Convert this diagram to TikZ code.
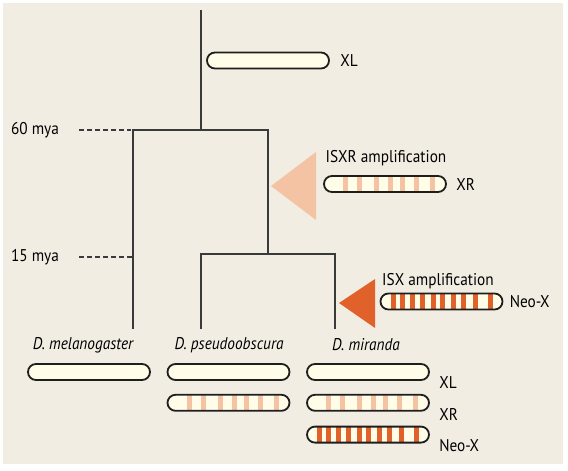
\documentclass[tikz,border=0pt]{standalone}
\usepackage{fontspec}
\setmainfont{PT Sans}[FakeStretch=0.9]
\usetikzlibrary{shapes,arrows,positioning}

\definecolor{paper}{HTML}{F2EDE3}
\definecolor{cream}{HTML}{FFFCE8}
\definecolor{treegray}{HTML}{3A3A3A}
\definecolor{chromline}{HTML}{1E1E1E}
\definecolor{lightband}{HTML}{F4C3A4}
\definecolor{darkband}{HTML}{E0622A}

\begin{document}
\begin{tikzpicture}[x=1pt,y=-1pt,thick,font=\fontsize{17}{19}\selectfont,
  branch/.style={draw=treegray,line width=1.1pt},
  timeline/.style={draw=treegray,line width=1.1pt,dash pattern=on 5pt off 3pt},
  chrom/.style={rounded rectangle,draw=chromline,line width=1.8pt,fill=cream,
    minimum width=122pt,minimum height=16pt,inner sep=0pt},
  xr chrom/.style={chrom,path picture={
    \foreach \s in {19,33,50,64,76,90,106}
      \fill[lightband] ([xshift=\s pt]path picture bounding box.south west)
        rectangle ([xshift={\s pt+5pt}]path picture bounding box.north west);}},
  neo chrom/.style={chrom,path picture={
    \foreach \s in {10,19,29,39,50,59,70,80,92,107}
      \fill[darkband] ([xshift=\s pt]path picture bounding box.south west)
        rectangle ([xshift={\s pt+5pt}]path picture bounding box.north west);}},
  species/.style={inner sep=0pt,font=\fontsize{17}{19}\selectfont\itshape},
  tag/.style={inner sep=0pt}]

  \fill[paper] (3,3) rectangle (563,464);
  \useasboundingbox (0,0) rectangle (568,471);

  % tree
  \coordinate (top) at (201,10);
  \coordinate (j60) at (201,130);
  \coordinate (j15) at (268,254);
  \coordinate (melend) at (133,329);
  \coordinate (pseend) at (201,329);
  \coordinate (mirend) at (335,329);
  \node[species] (mel) at (83,345) {D. melanogaster};
  \node[species] (pse) at (229,345) {D. pseudoobscura};
  \node[species] (mir) at (366,345) {D. miranda};

  \draw[branch] (top) -- (j60);
  \draw[branch] (melend) |- (j15 |- j60) -- (j15);
  \draw[branch] (pseend) |- (j15) -| (mirend);

  % time scale
  \node[tag] (t60) at (35,130) {60 mya};
  \node[tag] (t15) at (35,257) {15 mya};
  \draw[timeline] ([xshift=20pt]t60.east) -- ([xshift=-2pt]melend |- t60);
  \draw[timeline] ([xshift=20pt]t15.east) -- (melend |- t15);

  % ancestral X
  \node[chrom] (xl0) at (268,60.5) {};
  \node[tag,right=10pt of xl0] (xl0tag) {XL};

  % ISXR
  \fill[lightband] (271,186) -- (316,152) -- (316,220) -- cycle;
  \node[tag] (isxr) at (386,158) {ISXR amplification};
  \node[xr chrom] (xr0) at (385,184) {};
  \node[tag,right=9pt of xr0] (xr0tag) {XR};

  % ISX
  \fill[darkband] (339,303) -- (375,279) -- (375,328) -- cycle;
  \node[tag] (isx) at (438,281) {ISX amplification};
  \node[neo chrom] (neo0) at (441.5,301.5) {};
  \node[tag,right=6pt of neo0] (neo0tag) {Neo-X};

  % present day
  \node[chrom] (melxl) at (89,372) {};
  \node[chrom] (psexl) at (228.5,372) {};
  \node[xr chrom,below=13pt of psexl] (psexr) {};
  \node[chrom] (mirxl) at (368,372) {};
  \node[xr chrom,below=13pt of mirxl] (mirxr) {};
  \node[neo chrom,below=14pt of mirxr] (mirneo) {};
  \node[tag,anchor=west] (xltag) at ([xshift=9pt,yshift=-11pt]mirxl.east) {XL};
  \node[tag,anchor=west] (xrtag) at ([xshift=9pt,yshift=-12pt]mirxr.east) {XR};
  \node[tag,anchor=west] (neotag) at ([xshift=9pt,yshift=-11pt]mirneo.east) {Neo-X};
\end{tikzpicture}
\end{document}
